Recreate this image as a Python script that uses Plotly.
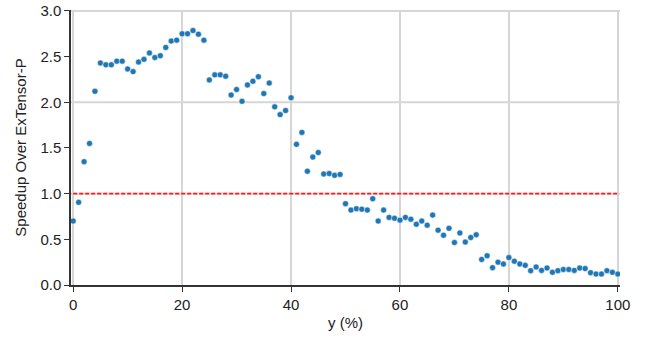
import plotly.graph_objects as go

x_pct = list(range(0, 101))
speedup = [
    0.70, 0.905, 1.35, 1.55, 2.12, 2.43, 2.41, 2.41, 2.45, 2.45,
    2.365, 2.336, 2.44, 2.47, 2.54, 2.49, 2.51, 2.60, 2.67, 2.68,
    2.75, 2.75, 2.785, 2.745, 2.68, 2.245, 2.30, 2.30, 2.285, 2.08,
    2.14, 2.01, 2.19, 2.23, 2.28, 2.095, 2.21, 1.95, 1.865, 1.91,
    2.05, 1.54, 1.67, 1.245, 1.40, 1.45, 1.215, 1.22, 1.20, 1.21,
    0.89, 0.82, 0.835, 0.83, 0.82, 0.945, 0.70, 0.82, 0.74, 0.73,
    0.71, 0.74, 0.72, 0.665, 0.70, 0.655, 0.765, 0.60, 0.545, 0.62,
    0.465, 0.57, 0.47, 0.52, 0.55, 0.28, 0.32, 0.19, 0.25, 0.23,
    0.30, 0.26, 0.23, 0.215, 0.157, 0.197, 0.16, 0.186, 0.139, 0.157,
    0.17, 0.17, 0.16, 0.186, 0.18, 0.135, 0.12, 0.12, 0.157, 0.139,
    0.12,
]
baseline = 1.0
grid_y = [1.0, 2.0, 3.0]
y_ticks = [0.0, 0.5, 1.0, 1.5, 2.0, 2.5, 3.0]
x_ticks = [0, 20, 40, 60, 80, 100]

font_family = "Liberation Sans, Arial, sans-serif"

fig = go.Figure()
fig.add_trace(go.Scatter(
    x=x_pct, y=speedup, mode="markers",
    marker=dict(color="#1f77b4", size=6, line=dict(color="white", width=0.5)),
    showlegend=False,
))

for gy in grid_y:
    fig.add_hline(y=gy, line=dict(color="#d6d6d6", width=2), layer="below")

fig.add_trace(go.Scatter(
    x=[0, 100], y=[baseline, baseline], mode="lines",
    line=dict(color="#ff1a1a", width=1.6, dash="4px,2px"),
    showlegend=False, hoverinfo="skip",
))

fig.update_layout(
    width=650, height=339,
    margin=dict(l=71, r=30, t=10, b=54, autoexpand=False),
    plot_bgcolor="white", paper_bgcolor="white",
    font=dict(family=font_family, size=15, color="#222"),
    xaxis=dict(
        range=[-0.4, 100.4], tickvals=x_ticks, ticktext=[str(v) for v in x_ticks],
        showgrid=True, gridcolor="#d6d6d6", gridwidth=2,
        showline=True, linecolor="#333", linewidth=1.5,
        ticks="outside", ticklen=5, tickcolor="#333", tickwidth=1.2,
        zeroline=False, automargin=False,
        tickfont=dict(size=15),
        title=dict(text="y (%)", font=dict(size=15), standoff=6),
    ),
    yaxis=dict(
        range=[0, 3.01], tickvals=y_ticks, ticktext=[f"{v:.1f}" for v in y_ticks],
        showgrid=False,
        showline=True, linecolor="#333", linewidth=1.5,
        ticks="outside", ticklen=5, tickcolor="#333", tickwidth=1.2,
        zeroline=False, automargin=False,
        tickfont=dict(size=15),
        title=dict(text="Speedup Over ExTensor-P", font=dict(size=15), standoff=10),
    ),
)

fig.write_html("out.html", config={"displayModeBar": False},
               post_script="document.body.style.margin='0';")
